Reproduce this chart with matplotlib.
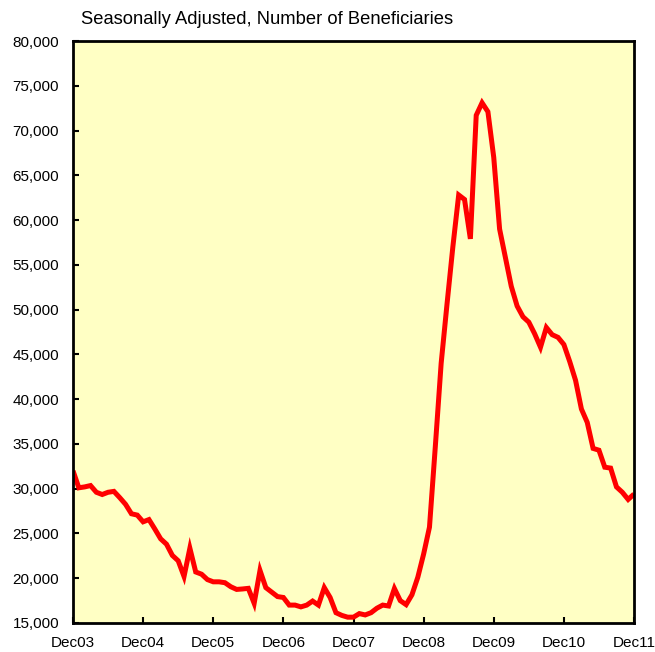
import matplotlib
matplotlib.use("Agg")
import matplotlib.pyplot as plt
import numpy as np

plt.rcParams['font.family'] = ['Liberation Sans', 'DejaVu Sans']

title = "Seasonally Adjusted, Number of Beneficiaries"
x_labels = ["Dec03", "Dec04", "Dec05", "Dec06", "Dec07", "Dec08", "Dec09", "Dec10", "Dec11"]
y_ticks = [15000, 20000, 25000, 30000, 35000, 40000, 45000, 50000, 55000,
           60000, 65000, 70000, 75000, 80000]

# Monthly values, Dec 2003 .. Dec 2011
beneficiaries = [
    32000, 30100, 30200, 30350, 29600, 29350, 29600, 29700, 29000, 28250,
    27200, 27050, 26300, 26550, 25500, 24400, 23800, 22550, 21950, 20200,
    23350, 20700, 20450, 19850, 19600, 19600, 19500, 19050, 18750, 18800,
    18870, 17200, 20870, 18950, 18450, 17950, 17850, 17000, 17000, 16800,
    17000, 17450, 17000, 18950, 17850, 16150, 15850, 15650, 15650, 16050,
    15900, 16150, 16650, 17000, 16900, 18850, 17500, 17050, 18150, 20100,
    22700, 25700, 34700, 44000, 50600, 57000, 62800, 62300, 57900, 71700,
    73100, 72100, 67000, 59000, 55800, 52600, 50400, 49200, 48600, 47300,
    45800, 48000, 47200, 46900, 46100, 44200, 42100, 38900, 37400, 34500,
    34300, 32400, 32300, 30200, 29600, 28800, 29400,
]

months = np.arange(len(beneficiaries))

fig = plt.figure(figsize=(6.55, 6.52), dpi=100)
ax = fig.add_axes([73 / 655, 1 - 623 / 652, (634 - 73) / 655, (623 - 41) / 652])
ax.set_facecolor("#FFFFC4")

ax.plot(months, beneficiaries, color="#FF0000", linewidth=3.6,
        solid_joinstyle="miter", solid_capstyle="butt")

ax.set_xlim(0, len(beneficiaries) - 1)
ax.set_ylim(y_ticks[0], y_ticks[-1])
ax.set_yticks(y_ticks)
ax.set_yticklabels([f"{v:,}" for v in y_ticks])
ax.set_xticks(np.arange(0, len(beneficiaries), 12))
ax.set_xticklabels(x_labels)

for s in ax.spines.values():
    s.set_linewidth(2.0)
    s.set_color("black")

ax.tick_params(axis='y', direction='in', length=4, width=1.5, pad=10, labelsize=11)
ax.tick_params(axis='x', direction='in', length=4, width=1.5, pad=9.5, labelsize=11)

fig.text(81 / 655, 1 - 19 / 652, title, fontsize=13.2, ha='left', va='center')

fig.savefig("out.png", dpi=100, facecolor="white")
